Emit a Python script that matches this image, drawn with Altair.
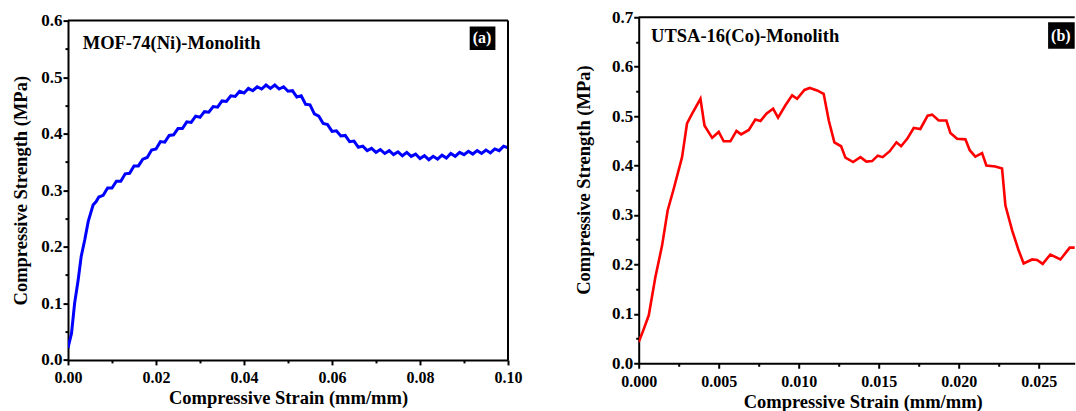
import altair as alt
import pandas as pd

FONT = "Liberation Serif"

# ---- MOF-74(Ni) monolith: compressive strain (mm/mm) vs strength (MPa)
ni_strain = [0.0, 0.0008, 0.0015, 0.0023, 0.0030, 0.0038, 0.0046, 0.0057, 0.0064,
             0.007, 0.008, 0.009, 0.010, 0.011, 0.012, 0.013, 0.014, 0.015, 0.016,
             0.017, 0.018, 0.019, 0.020, 0.021, 0.022, 0.023, 0.024, 0.025, 0.026,
             0.027, 0.028, 0.029, 0.030, 0.031, 0.032, 0.033, 0.034, 0.035, 0.036,
             0.037, 0.038, 0.039, 0.040, 0.041, 0.042, 0.043, 0.044, 0.045, 0.046,
             0.047, 0.048, 0.049, 0.050, 0.051, 0.052, 0.053, 0.054, 0.055, 0.056,
             0.057, 0.058, 0.059, 0.060, 0.061, 0.062, 0.063, 0.064, 0.065, 0.066,
             0.067, 0.068, 0.069, 0.070, 0.071, 0.072, 0.073, 0.074, 0.075, 0.076,
             0.077, 0.078, 0.079, 0.080, 0.081, 0.082, 0.083, 0.084, 0.085, 0.086,
             0.087, 0.088, 0.089, 0.090, 0.091, 0.092, 0.093, 0.094, 0.095, 0.096,
             0.097, 0.098, 0.099, 0.100]
ni_stress = [0.021, 0.047, 0.100, 0.141, 0.183, 0.212, 0.245, 0.274, 0.280,
             0.288, 0.291, 0.304, 0.304, 0.316, 0.316, 0.329, 0.330, 0.343, 0.343,
             0.355, 0.358, 0.371, 0.373, 0.386, 0.385, 0.397, 0.398, 0.409, 0.409,
             0.421, 0.420, 0.431, 0.429, 0.439, 0.438, 0.448, 0.447, 0.458, 0.457,
             0.467, 0.466, 0.475, 0.472, 0.480, 0.476, 0.483, 0.479, 0.486, 0.480,
             0.486, 0.479, 0.483, 0.475, 0.476, 0.465, 0.467, 0.452, 0.451, 0.435,
             0.431, 0.418, 0.416, 0.404, 0.405, 0.396, 0.397, 0.386, 0.387, 0.376,
             0.378, 0.370, 0.374, 0.367, 0.372, 0.365, 0.370, 0.363, 0.368, 0.361,
             0.367, 0.360, 0.364, 0.356, 0.361, 0.354, 0.360, 0.355, 0.362, 0.357,
             0.365, 0.360, 0.367, 0.363, 0.369, 0.364, 0.370, 0.365, 0.371, 0.366,
             0.373, 0.370, 0.378, 0.375]

# ---- UTSA-16(Co) monolith
co_strain = [0.0, 0.00021, 0.00063, 0.00104, 0.00146, 0.00181, 0.00219, 0.00271,
             0.00302, 0.00334, 0.00386, 0.00411, 0.00459, 0.0050, 0.00531, 0.00573,
             0.00611, 0.0064, 0.00688, 0.00729, 0.00761, 0.00798, 0.0084, 0.00871,
             0.00917, 0.00959, 0.0099, 0.01036, 0.01069, 0.01115, 0.01156, 0.01188,
             0.01223, 0.01265, 0.01292, 0.0134, 0.01386, 0.01423, 0.01459, 0.01494,
             0.01525, 0.01569, 0.01611, 0.0164, 0.01678, 0.01719, 0.0176, 0.01806,
             0.01834, 0.01875, 0.01923, 0.01948, 0.0199, 0.02042, 0.02069, 0.02104,
             0.02146, 0.02173, 0.02229, 0.02271, 0.02292, 0.02334, 0.02375, 0.02406,
             0.02459, 0.0249, 0.02525, 0.02573, 0.02636, 0.02694, 0.02736, 0.0278]
co_stress = [0.043, 0.060, 0.097, 0.174, 0.238, 0.309, 0.353, 0.417,
             0.485, 0.505, 0.535, 0.481, 0.456, 0.468, 0.449, 0.449,
             0.470, 0.463, 0.472, 0.493, 0.490, 0.505, 0.515, 0.497,
             0.522, 0.542, 0.535, 0.553, 0.557, 0.552, 0.545, 0.491,
             0.447, 0.439, 0.416, 0.407, 0.417, 0.408, 0.409, 0.420,
             0.417, 0.429, 0.447, 0.439, 0.454, 0.476, 0.474, 0.501,
             0.503, 0.491, 0.491, 0.466, 0.454, 0.453, 0.431, 0.418,
             0.425, 0.400, 0.398, 0.394, 0.319, 0.269, 0.228, 0.202,
             0.210, 0.209, 0.201, 0.220, 0.210, 0.234, 0.234, 0.234]

# tick positions
ni_x_major = [0.0, 0.02, 0.04, 0.06, 0.08, 0.10]
ni_x_minor = [0.01, 0.03, 0.05, 0.07, 0.09]
ni_y_major = [0.0, 0.1, 0.2, 0.3, 0.4, 0.5, 0.6]
ni_y_minor = [0.05, 0.15, 0.25, 0.35, 0.45, 0.55]
co_x_major = [0.0, 0.005, 0.010, 0.015, 0.020, 0.025]
co_x_minor = [0.0025, 0.0075, 0.0125, 0.0175, 0.0225]
co_y_major = [0.0, 0.1, 0.2, 0.3, 0.4, 0.5, 0.6, 0.7]
co_y_minor = [0.05, 0.15, 0.25, 0.35, 0.45, 0.55, 0.65]

X_TITLE = "Compressive Strain (mm/mm)"
Y_TITLE = "Compressive Strength (MPa)"


def panel(strain, stress, color, line_w, x_max, y_max, x_major, x_minor, y_major,
          y_minor, x_fmt, w, h, name, name_x, name_y, tag, box, ytitle_x, ytitle_y,
          xtitle_x, right_border):
    df = pd.DataFrame({"strain": strain, "stress": stress})
    one = pd.DataFrame({"k": [0]})
    xs = alt.Scale(domain=[0, x_max], nice=False, zero=False)
    ys = alt.Scale(domain=[0, y_max], nice=False, zero=False)

    main_x = alt.Axis(values=x_major, format=x_fmt, title=X_TITLE, orient="bottom",
                      tickSize=5, labelPadding=5, titleX=xtitle_x, titleY=44,
                      titleBaseline="alphabetic", labelFlush=False, labelFontSize=16)
    main_y = alt.Axis(values=y_major, format=".1f", title=Y_TITLE, orient="left",
                      tickSize=5, labelPadding=1, titleX=ytitle_x, titleY=ytitle_y,
                      titleBaseline="middle", titleAngle=270, labelFlush=False,
                      labelFontSize=17)
    minor_x = alt.Axis(values=x_minor, labels=False, domain=False, tickSize=3,
                       title=None, orient="bottom")
    minor_y = alt.Axis(values=y_minor, labels=False, domain=False, tickSize=3,
                       title=None, orient="left")

    curve = alt.Chart(df).mark_line(color=color, strokeWidth=line_w, clip=True).encode(
        x=alt.X("strain:Q", scale=xs, axis=main_x),
        y=alt.Y("stress:Q", scale=ys, axis=main_y),
    )
    top = alt.Chart(one).mark_rule(color="black", strokeWidth=2).encode(
        x=alt.X(datum=0, type="quantitative", scale=xs, axis=minor_x),
        x2=alt.X2(datum=x_max),
        y=alt.Y(datum=y_max, type="quantitative", scale=ys, axis=minor_y),
    )
    layers = [curve, top]
    if right_border:
        layers.append(alt.Chart(one).mark_rule(color="black", strokeWidth=2).encode(
            x=alt.X(datum=x_max, type="quantitative", scale=xs, axis=None),
            y=alt.Y(datum=0, type="quantitative", scale=ys, axis=None),
            y2=alt.Y2(datum=y_max),
        ))
    label = alt.Chart(one).mark_text(
        font=FONT, fontSize=18.5, fontWeight="bold", color="black",
        align="left", baseline="middle",
    ).encode(x=alt.value(name_x), y=alt.value(name_y), text=alt.value(name))
    bx0, by0, bx1, by1 = box
    badge = alt.Chart(one).mark_rect(color="black", clip=True).encode(
        x=alt.value(bx0), x2=alt.value(bx1), y=alt.value(by0), y2=alt.value(by1))
    badge_text = alt.Chart(one).mark_text(
        font=FONT, fontSize=16, fontWeight="bold", color="white",
        align="left", baseline="middle", clip=True,
    ).encode(x=alt.value(bx0 + 3), y=alt.value((by0 + by1) / 2), text=alt.value(tag))
    layers += [label, badge, badge_text]

    return alt.layer(*layers).resolve_axis(x="independent", y="independent").properties(
        width=w, height=h)


left = panel(ni_strain, ni_stress, "#0000FF", 3, 0.1, 0.6,
             ni_x_major, ni_x_minor, ni_y_major, ni_y_minor, ".2f",
             440, 339.3, "MOF-74(Ni)-Monolith", 14.7, 22, "(a)",
             (401.7, 6, 427.4, 29.3), -48, 169.6, 220, True)

right = panel(co_strain, co_stress, "#FF0000", 2.6, 0.02725, 0.7,
              co_x_major, co_x_minor, co_y_major, co_y_minor, ".3f",
              436, 346, "UTSA-16(Co)-Monolith", 12.4, 18.3, "(b)",
              (409.4, 5, 440, 31.6), -55.3, 162.3, 224, False)

chart = alt.hconcat(left, right, spacing=51.7, center=True).configure(
    font=FONT,
    padding={"left": 11, "top": 8, "right": 0, "bottom": 0},
).configure_view(stroke=None).configure_axis(
    grid=False,
    domainColor="black", domainWidth=2,
    tickColor="black", tickWidth=2,
    labelFont=FONT, labelFontWeight="bold", labelColor="black",
    titleFont=FONT, titleFontSize=18.5, titleFontWeight="bold", titleColor="black",
)

chart.save("out.html", embed_options={"renderer": "svg", "actions": False})
